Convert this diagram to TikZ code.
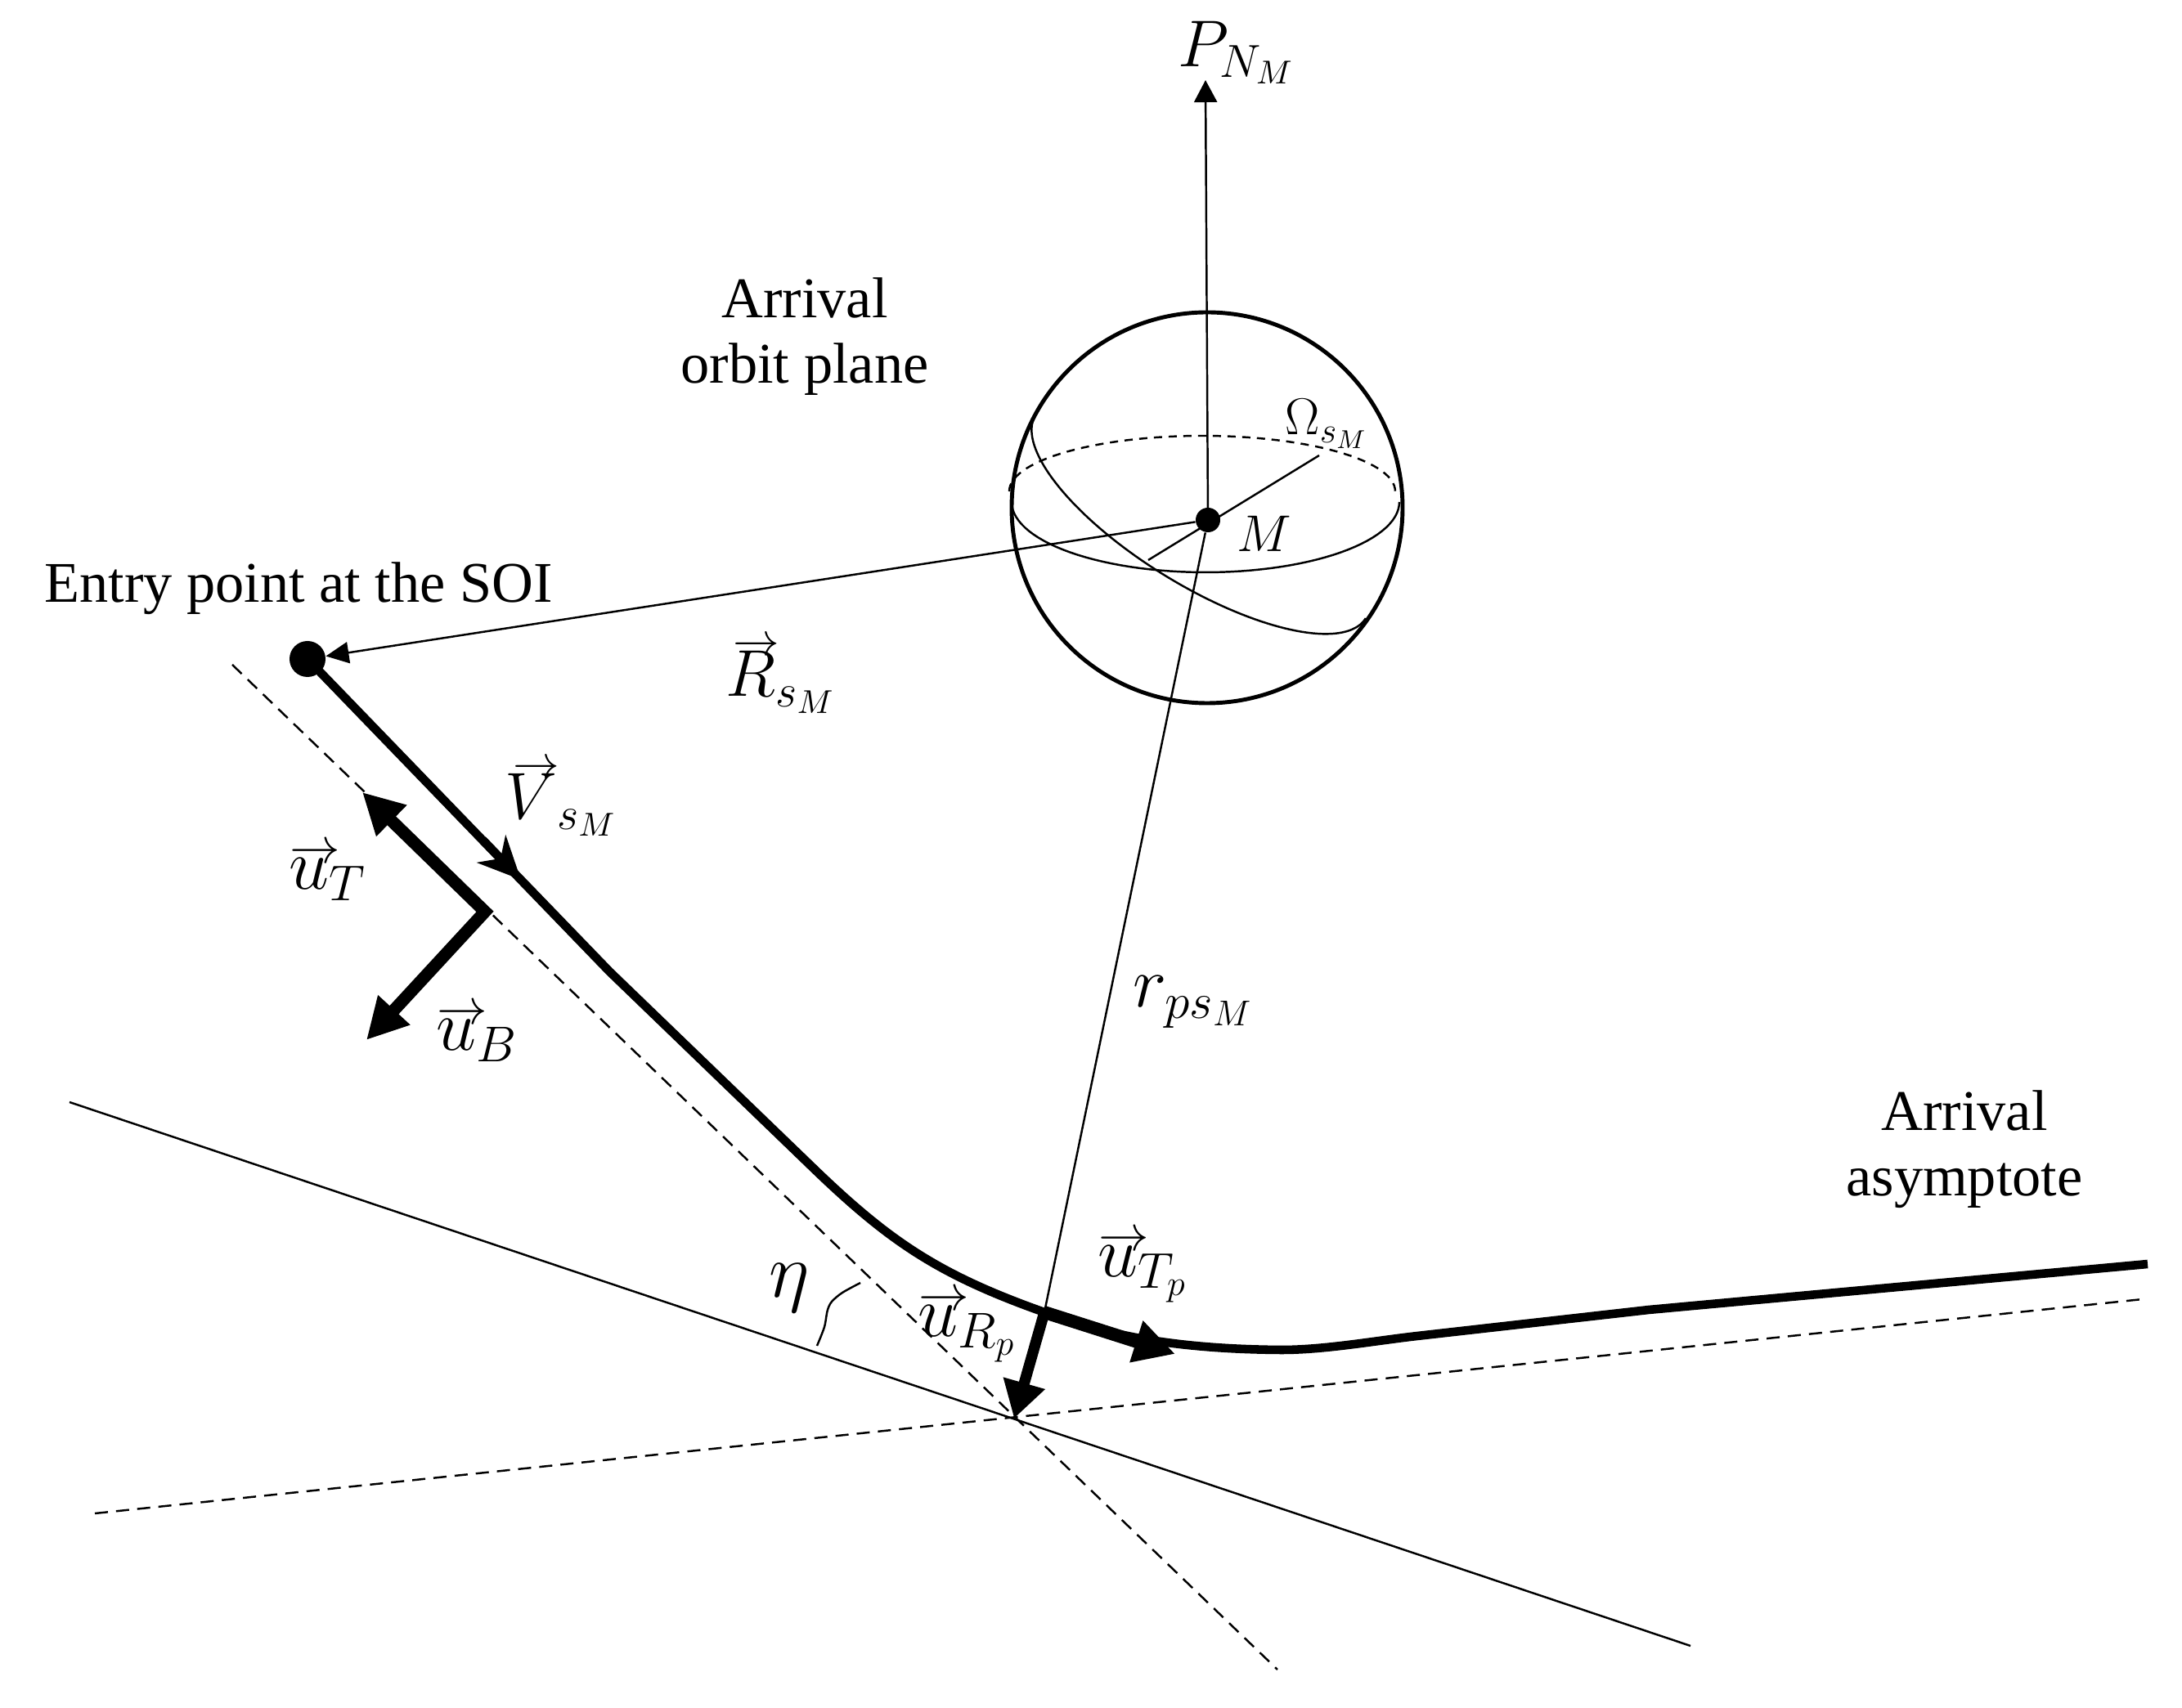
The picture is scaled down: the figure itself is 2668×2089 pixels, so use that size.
\RequirePackage{fix-cm}
\documentclass[tikz,border=0pt]{standalone}
\usepackage{amsmath}
\usepackage{fontspec}
\setmainfont{Liberation Serif}
\usetikzlibrary{arrows.meta}
\newcommand{\va}[1]{\mathord{\vbox{\offinterlineskip\halign{\hfil##\hfil\cr
  \makebox[0pt]{\hspace{0.16em}$\scriptstyle\rightarrow$}\cr\noalign{\kern-0.06em}
  $#1$\cr}}}}
\begin{document}
\begin{tikzpicture}[x=0.01cm,y=-0.01cm,
  thinline/.style={line width=0.7pt},
  dashline/.style={line width=0.7pt, dash pattern=on 0.16cm off 0.1cm},
  sphdash/.style={line width=0.7pt, dash pattern=on 0.1cm off 0.08cm},
  traj/.style={line width=3pt, line join=round},
  vecarrow/.style={line width=4.3pt, line join=miter},
  dotnode/.style={circle, fill=black, inner sep=0pt},
  labU/.style={inner sep=0pt, anchor=base west, font=\fontsize{23}{27}\selectfont},
  labL/.style={inner sep=0pt, anchor=base west, font=\fontsize{25}{29}\selectfont},
  labsm/.style={inner sep=0pt, anchor=base west, font=\fontsize{18}{22}\selectfont},
  txt/.style={inner sep=0pt, align=center, anchor=base, font=\fontsize{20}{23}\selectfont}
]
\useasboundingbox (0,0) rectangle (2668,2089);

% key points
\coordinate (C) at (1476,621);
\coordinate (Ptop) at (1474,98);
\coordinate (X) at (1240,1735);
\coordinate (P) at (1277,1605);
\coordinate (nodeA) at (1404,685);
\coordinate (nodeB) at (1613,557);
\coordinate (L1a) at (85,1348);
\coordinate (L1b) at (2067,2013);
\coordinate (L2a) at (284,813);
\coordinate (L2b) at (1562,2042);
\coordinate (L3a) at (116,1851);
\coordinate (L3b) at (2620,1589);
\coordinate (corner) at (593,1115);
\coordinate (uTtip) at (443,969);
\coordinate (uBtip) at (448,1272);
\coordinate (uTptip) at (1437,1656);
\coordinate (Vstart) at (590,1027);
\coordinate (Vtip) at (637,1076);

% dots
\node[dotnode, minimum size=0.3cm] (M) at (1477,636) {};
\node[dotnode, minimum size=0.44cm] (entry) at (376,806) {};

% reference lines through X
\draw[thinline] (L1a) -- (L1b);
\draw[dashline] (L2a) -- (L2b);
\draw[dashline] (L3a) -- (L3b);

% sphere
\draw[line width=1.4pt] (C) circle[radius=239];
\draw[sphdash] plot[domain=180:360, samples=60] ({1470+236*cos(\x)},{601+68*sin(\x)});
\draw[thinline] plot[domain=0:180, samples=60] ({1474+237*cos(\x)},{614+86*sin(\x)});
\draw[thinline] plot[domain=0:180, samples=80] ({1468+201.9*cos(\x)-44*sin(\x)},{632+124.2*cos(\x)+71.6*sin(\x)});
\draw[thinline] (nodeA) -- (nodeB);

% axis and radius vectors
\draw[thinline, -{Triangle[length=0.27cm,width=0.28cm]}] (M.center) -- (Ptop);
\draw[thinline, -{Triangle[length=0.28cm,width=0.26cm]}] (M) -- (entry);
\draw[thinline] (M) -- (P);

% angle mark
\draw[thinline] plot[smooth] coordinates {(1052,1569) (1030,1581) (1017,1592) (1011.7,1603) (1008,1623) (999,1646)};

% trajectory
\draw[traj] (entry.center) -- (745,1188) -- (1000,1434)
  .. controls (1090,1520) and (1150,1560) .. (P)
  .. controls (1340,1628) and (1420,1650) .. (1567,1651)
  .. controls (1620,1651) and (1680,1640) .. (1733,1634)
  -- (2016,1602) -- (2626,1546);
\draw[traj, -{Stealth[length=0.52cm,width=0.48cm,inset=0.16cm]}] (Vstart) -- (Vtip);

% unit vectors
\draw[vecarrow, {Triangle[length=0.5cm,width=0.5cm]}-{Triangle[length=0.5cm,width=0.5cm]}] (uTtip) -- (corner) -- (uBtip);
\draw[line width=3.8pt, -{Triangle[length=0.45cm,width=0.5cm]}] (P) -- (X);
\draw[line width=4.5pt, -{Triangle[length=0.5cm,width=0.5cm]}] (P) -- (uTptip);

% texts
\node[txt] (entrylab) at (365,737) {Entry point at the SOI};
\node[txt] (orbitlab) at (984,469) {Arrival\\orbit plane};
\node[txt] (asymlab) at (2402,1463) {Arrival\\asymptote};

% math labels
\node[labU] (PNlab) at (1440,82) {$P_{N_M}$};
\node[labsm] (Omlab) at (1571,532) {$\Omega_{s_M}$};
\node[labsm] (Mlab) at (1512,675) {$M$};
\node[labU] (Rlab) at (887,852) {$\va{R}_{s_M}$};
\node[labU] (Vlab) at (617,1002) {$\va{V}_{s_M}$};
\node[labL] (uTlab) at (353,1088) {$\va{u}_T$};
\node[labL] (uBlab) at (533,1285) {$\va{u}_B$};
\node[labL] (rlab) at (1385,1232) {$r_{ps_M}$};
\node[labL] (uTplab) at (1342,1562) {$\va{u}_{T_p}$};
\node[labL] (uRplab) at (1122,1635) {$\va{u}_{R_p}$};
\node[labL, font=\fontsize{27}{31}\selectfont] (etalab) at (940,1587) {$\eta$};
\end{tikzpicture}
\end{document}
